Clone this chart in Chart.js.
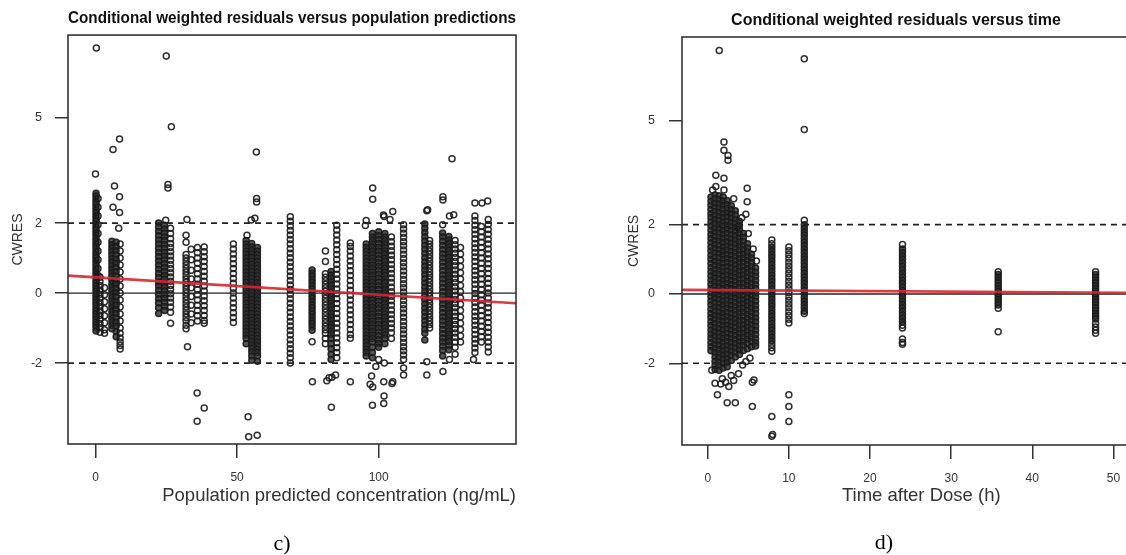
<!DOCTYPE html>
<html>
<head>
<meta charset="utf-8">
<script src="https://cdn.jsdelivr.net/npm/chart.js@4.4.1/dist/chart.umd.min.js"></script>
<style>
  html, body { margin: 0; padding: 0; background: #fff; overflow: hidden; width: 1126px; height: 555px; position: relative; }
  canvas { position: absolute; top: 0; }
  .tag { position: absolute; font: 22px "Liberation Serif", "Times New Roman", serif; color: #000; line-height: 22px; transform: translateX(-50%); }
</style>
</head>
<body>
<canvas id="predChart" width="560" height="555" style="left:0"></canvas>
<canvas id="timeChart" width="606" height="555" style="left:560px"></canvas>
<div class="tag" style="left:282px; top:532px">c)</div>
<div class="tag" style="left:884px; top:531px">d)</div>
<script>
// Ejes y lineas de referencia
const yTicks = [-2, 0, 2, 5];
const predTicks = [0, 50, 100];
const timeTicks = [0, 10, 20, 30, 40, 50];
const refLevels = [0, 2, -2];

// CWRES vs concentracion predicha, columnas muy densas: [x, [valores y]]
const predDense = [
  [0.2, [2.85,2.77,2.69,2.61,2.53,2.45,2.37,2.29,2.21,2.13,2.05,1.97,1.89,1.81,1.73,1.65,1.57,1.49,1.41,1.33,1.25,1.17,1.09,1.01,0.93,0.85,0.77,0.69,0.61,0.53,0.45,0.37,0.29,0.21,0.13,0.05,-0.03,-0.11,-0.19,-0.27,-0.35,-0.43,-0.51,-0.59,-0.67,-0.75,-0.83,-0.91,-0.99,-1.08]],
  [5.8, [1.48,1.38,1.28,1.18,1.08,0.98,0.88,0.78,0.68,0.58,0.48,0.38,0.28,0.18,0.08,-0.02,-0.12,-0.22,-0.32,-0.42,-0.52,-0.62,-0.72,-0.82,-0.92,-1.02]],
  [7.3, [1.45,1.33,1.21,1.09,0.97,0.85,0.73,0.61,0.49,0.37,0.25,0.13,0.01,-0.11,-0.23,-0.35,-0.47,-0.59,-0.71,-0.83,-0.95,-1.1,-1.25]],
  [22.3, [2.0,1.88,1.76,1.64,1.52,1.4,1.28,1.16,1.04,0.92,0.8,0.68,0.56,0.44,0.32,0.2,0.08,-0.04,-0.16,-0.28,-0.42,-0.58]],
  [24.4, [1.94,1.83,1.72,1.61,1.5,1.39,1.28,1.17,1.06,0.95,0.84,0.73,0.62,0.51,0.4,0.29,0.18,0.07,-0.04,-0.15,-0.26,-0.38,-0.5]],
  [53.2, [1.5,1.4,1.3,1.2,1.1,1.0,0.9,0.8,0.7,0.6,0.5,0.4,0.3,0.2,0.1,0,-0.1,-0.2,-0.3,-0.4,-0.5,-0.6,-0.7,-0.8,-0.9,-1.0,-1.1,-1.2,-1.3,-1.45]],
  [55.2, [1.42,1.32,1.22,1.12,1.02,0.92,0.82,0.72,0.62,0.52,0.42,0.32,0.22,0.12,0.02,-0.08,-0.18,-0.28,-0.38,-0.48,-0.58,-0.68,-0.78,-0.88,-0.98,-1.08,-1.18,-1.28,-1.38,-1.48,-1.58,-1.68,-1.8,-1.92]],
  [57.2, [1.3,1.2,1.1,1.0,0.9,0.8,0.7,0.6,0.5,0.4,0.3,0.2,0.1,0,-0.1,-0.2,-0.3,-0.4,-0.5,-0.6,-0.7,-0.8,-0.9,-1.0,-1.1,-1.2,-1.3,-1.4,-1.5,-1.6,-1.7,-1.8,-1.95]],
  [76.5, [0.66,0.57,0.48,0.39,0.3,0.21,0.12,0.03,-0.06,-0.15,-0.24,-0.33,-0.42,-0.51,-0.6,-0.69,-0.78,-0.87,-0.96,-1.06]],
  [83.2, [0.62,0.52,0.42,0.32,0.22,0.12,0.02,-0.08,-0.18,-0.28,-0.38,-0.48,-0.58,-0.68,-0.78,-0.88,-0.98,-1.08,-1.18,-1.3,-1.45,-1.6,-1.75,-1.9]],
  [95.6, [1.4,1.3,1.2,1.1,1.0,0.9,0.8,0.7,0.6,0.5,0.4,0.3,0.2,0.1,0,-0.1,-0.2,-0.3,-0.4,-0.5,-0.6,-0.7,-0.8,-0.9,-1.0,-1.1,-1.2,-1.3,-1.4,-1.5,-1.6,-1.7,-1.8]],
  [97.8, [1.7,1.6,1.5,1.4,1.3,1.2,1.1,1.0,0.9,0.8,0.7,0.6,0.5,0.4,0.3,0.2,0.1,0,-0.1,-0.2,-0.3,-0.4,-0.5,-0.6,-0.7,-0.8,-0.9,-1.0,-1.1,-1.2,-1.3,-1.4,-1.55,-1.7,-1.85]],
  [100, [1.75,1.64,1.53,1.42,1.31,1.2,1.09,0.98,0.87,0.76,0.65,0.54,0.43,0.32,0.21,0.1,-0.01,-0.12,-0.23,-0.34,-0.45,-0.56,-0.67,-0.78,-0.89,-1.0,-1.11,-1.22,-1.33,-1.44,-1.55]],
  [102.2, [1.7,1.6,1.5,1.4,1.3,1.2,1.1,1.0,0.9,0.8,0.7,0.6,0.5,0.4,0.3,0.2,0.1,0,-0.1,-0.2,-0.3,-0.4,-0.5,-0.6,-0.7,-0.8,-0.9,-1.0,-1.1,-1.2,-1.3,-1.45]],
  [116.3, [1.97,1.85,1.73,1.61,1.49,1.37,1.25,1.13,1.01,0.89,0.77,0.65,0.53,0.41,0.29,0.17,0.05,-0.07,-0.19,-0.31,-0.43,-0.55,-0.67,-0.79,-0.91,-1.03,-1.15,-1.34]],
  [122.6, [1.72,1.6,1.48,1.36,1.24,1.12,1.0,0.88,0.76,0.64,0.52,0.4,0.28,0.16,0.04,-0.08,-0.2,-0.32,-0.44,-0.56,-0.68,-0.8,-0.92,-1.04,-1.16,-1.28,-1.4,-1.52,-1.64,-1.8]],
  [124.8, [1.62,1.52,1.42,1.32,1.22,1.12,1.02,0.92,0.82,0.72,0.62,0.52,0.42,0.32,0.22,0.12,0.02,-0.08,-0.18,-0.28,-0.38,-0.48,-0.58,-0.68,-0.78,-0.88,-0.98,-1.08,-1.18,-1.28,-1.38,-1.5,-1.62]]
];
// Columnas donde se ven los circulos uno a uno
const predColumns = [
  [0.9, [2.7,2.45,2.2,1.95,1.7,1.45,1.2,0.95,0.7,0.5]],
  [1.6, [0.45,0.33,0.21,0.09,-0.03,-0.15,-0.27,-0.39,-0.51,-0.63,-0.75,-0.87,-0.99,-1.12]],
  [3.2, [0.15,-0.05,-0.25,-0.45,-0.65,-0.85,-1.05,-1.15]],
  [8.7, [1.4,1.2,1.0,0.8,0.6,0.4,0.2,0,-0.2,-0.4,-0.6,-0.8,-1.0,-1.15,-1.28,-1.4,-1.5,-1.6]],
  [26.5, [1.85,1.7,1.55,1.42,1.3,1.18,1.06,0.94,0.82,0.7,0.58,0.46,0.34,0.22,0.1,-0.02,-0.14,-0.26,-0.4,-0.55]],
  [32, [1.65,1.45,1.1,1.0,0.9,0.8,0.7,0.6,0.5,0.4,0.3,0.2,0.1,0,-0.1,-0.2,-0.3,-0.4,-0.5,-0.6,-0.7,-0.8,-0.92,-1.02]],
  [33.8, [1.25,0.95,0.65,0.4,0.15,-0.1,-0.35,-0.6,-0.85]],
  [36, [1.3,1.15,1.0,0.85,0.7,0.55,0.4,0.25,0.1,-0.05,-0.2,-0.35,-0.5,-0.65,-0.8]],
  [38.4, [1.32,1.18,1.04,0.9,0.76,0.62,0.48,0.34,0.2,0.06,-0.08,-0.22,-0.36,-0.5,-0.64,-0.78,-0.86]],
  [48.7, [1.4,1.26,1.12,0.98,0.84,0.7,0.56,0.42,0.28,0.14,0,-0.14,-0.28,-0.42,-0.56,-0.7,-0.84]],
  [68.8, [2.18,2.05,1.92,1.79,1.66,1.53,1.4,1.27,1.14,1.01,0.88,0.75,0.62,0.49,0.36,0.23,0.1,-0.03,-0.16,-0.29,-0.42,-0.55,-0.68,-0.81,-0.94,-1.07,-1.2,-1.33,-1.46,-1.59,-1.72,-1.85,-2.0]],
  [81.2, [1.2,0.9,0.55,0.45,0.35,0.25,0.15,0.05,-0.05,-0.15,-0.25,-0.35,-0.45,-0.55,-0.65,-0.75,-0.85,-0.95,-1.05,-1.15,-1.3,-1.45]],
  [85.2, [1.94,1.8,1.66,1.52,1.38,1.24,1.1,0.96,0.82,0.68,0.54,0.4,0.26,0.12,-0.02,-0.16,-0.3,-0.44,-0.58,-0.72,-0.86,-1.0,-1.14,-1.28,-1.42,-1.56,-1.7,-1.85]],
  [90, [1.43,1.33,1.2,1.06,0.92,0.78,0.64,0.5,0.36,0.22,0.08,-0.06,-0.2,-0.34,-0.48,-0.62,-0.76,-0.9,-1.04,-1.18,-1.29]],
  [104.5, [1.6,1.47,1.34,1.21,1.08,0.95,0.82,0.69,0.56,0.43,0.3,0.17,0.04,-0.09,-0.22,-0.35,-0.48,-0.61,-0.74,-0.87,-1.0,-1.13,-1.3]],
  [108.8, [1.95,1.83,1.71,1.59,1.47,1.35,1.23,1.11,0.99,0.87,0.75,0.63,0.51,0.39,0.27,0.15,0.03,-0.09,-0.21,-0.33,-0.45,-0.57,-0.69,-0.81,-0.93,-1.05,-1.17,-1.29,-1.41,-1.53,-1.65,-1.77,-1.9,-2.14,-2.34]],
  [118, [1.5,1.4,1.3,1.2,1.1,1.0,0.9,0.8,0.7,0.6,0.5,0.4,0.3,0.2,0.1,0,-0.1,-0.2,-0.3,-0.4,-0.5,-0.6,-0.7,-0.8,-0.9,-1.0]],
  [122.6, [1.95]],
  [127, [1.5,1.38,1.26,1.14,1.02,0.9,0.78,0.66,0.54,0.42,0.3,0.18,0.06,-0.06,-0.18,-0.3,-0.42,-0.54,-0.66,-0.78,-0.9,-1.02,-1.14,-1.26,-1.4,-1.55]],
  [128.9, [1.3,1.12,0.94,0.76,0.58,0.4,0.22,0.04,-0.14,-0.32,-0.5,-0.68,-0.86,-1.04,-1.22,-1.4]],
  [134, [2.2,2.07,1.94,1.81,1.68,1.55,1.42,1.29,1.16,1.03,0.9,0.77,0.64,0.51,0.38,0.25,0.12,-0.01,-0.14,-0.27,-0.4,-0.53,-0.66,-0.79,-0.92,-1.05,-1.18,-1.31,-1.44,-1.57,-1.7]],
  [136.3, [1.9,1.75,1.6,1.45,1.3,1.15,1.0,0.85,0.7,0.55,0.4,0.25,0.1,-0.05,-0.2,-0.35,-0.5,-0.65,-0.8,-0.95,-1.1,-1.25,-1.4]],
  [138.7, [2.1,1.96,1.82,1.68,1.54,1.4,1.26,1.12,0.98,0.84,0.7,0.56,0.42,0.28,0.14,0,-0.14,-0.28,-0.42,-0.56,-0.7,-0.84,-0.98,-1.12,-1.26,-1.4,-1.54,-1.68]]
];
const predOutliers = [
  [0.3,7.0],[0,3.4],[6.2,4.1],[8.5,4.4],[6.7,3.06],[8.5,2.75],[6.2,2.45],[8.5,2.3],[8.2,1.85],
  [25,6.77],[26.8,4.75],[25.6,3.1],[25.6,3.0],[24.8,2.08],[26.5,-0.86],
  [32.3,2.1],[32.5,-1.53],[35.9,-2.85],[38.4,-3.28],[35.9,-3.66],
  [53.9,-3.53],[54.1,-4.1],[57.1,-4.06],[56.8,4.03],[56.9,2.7],[56.9,2.6],[56.3,2.14],[55,2.09],[53.5,1.65],
  [76.5,-1.39],[76.6,-2.53],[81.7,-2.5],[83.3,-3.26],[84.8,-2.34],[83.5,-2.4],[82.5,-2.42],[90,-2.53],
  [95.6,2.07],[95.3,1.93],[97.9,3.0],[97.9,2.68],[101.7,2.23],[101.9,2.19],[105,2.33],[104,2.1],
  [97.5,-2.37],[97,-2.6],[97.9,-2.68],[97.8,-3.2],[101.8,-3.15],[101.9,-2.94],[102,-2.0],[101.8,-2.53],[104.7,-2.58],[105,-2.53],[100,-1.9],[99,-2.1],
  [117,2.35],[117.3,2.38],[117,-1.96],[117,-2.34],
  [122.7,2.75],[122.7,2.66],[125.9,3.84],[126.5,2.24],[125,2.2],[122.7,-2.24],[125,-1.9],[127,-1.75],
  [134,2.57],[138.5,2.63],[136.5,2.57],[133.5,-1.9]
];
const predTrend = [[-9.7, 0.5], [148.5, -0.29]];

// CWRES vs tiempo tras dosis, columnas muy densas: [x, [valores y]]
const timeDense = [
  [0.4, [2.8,2.68,2.56,2.44,2.32,2.2,2.08,1.96,1.84,1.72,1.6,1.48,1.36,1.24,1.12,1.0,0.88,0.76,0.64,0.52,0.4,0.28,0.16,0.04,-0.08,-0.2,-0.32,-0.44,-0.56,-0.68,-0.8,-0.92,-1.04,-1.16,-1.28,-1.4,-1.52,-1.64]],
  [0.9, [2.86,2.74,2.62,2.5,2.38,2.26,2.14,2.02,1.9,1.78,1.66,1.54,1.42,1.3,1.18,1.06,0.94,0.82,0.7,0.58,0.46,0.34,0.22,0.1,-0.02,-0.14,-0.26,-0.38,-0.5,-0.62,-0.74,-0.86,-0.98,-1.1,-1.22,-1.34,-1.46,-1.58,-1.7,-1.82,-1.94,-2.06,-2.18]],
  [1.4, [2.84,2.72,2.6,2.48,2.36,2.24,2.12,2.0,1.88,1.76,1.64,1.52,1.4,1.28,1.16,1.04,0.92,0.8,0.68,0.56,0.44,0.32,0.2,0.08,-0.04,-0.16,-0.28,-0.4,-0.52,-0.64,-0.76,-0.88,-1.0,-1.12,-1.24,-1.36,-1.48,-1.6,-1.72,-1.84,-1.96,-2.08,-2.2]],
  [1.9, [2.8,2.68,2.56,2.44,2.32,2.2,2.08,1.96,1.84,1.72,1.6,1.48,1.36,1.24,1.12,1.0,0.88,0.76,0.64,0.52,0.4,0.28,0.16,0.04,-0.08,-0.2,-0.32,-0.44,-0.56,-0.68,-0.8,-0.92,-1.04,-1.16,-1.28,-1.4,-1.52,-1.64,-1.76,-1.88,-2.0,-2.14]],
  [2.4, [2.7,2.58,2.46,2.34,2.22,2.1,1.98,1.86,1.74,1.62,1.5,1.38,1.26,1.14,1.02,0.9,0.78,0.66,0.54,0.42,0.3,0.18,0.06,-0.06,-0.18,-0.3,-0.42,-0.54,-0.66,-0.78,-0.9,-1.02,-1.14,-1.26,-1.38,-1.5,-1.62,-1.74,-1.86,-1.98,-2.1]],
  [2.9, [2.55,2.43,2.31,2.19,2.07,1.95,1.83,1.71,1.59,1.47,1.35,1.23,1.11,0.99,0.87,0.75,0.63,0.51,0.39,0.27,0.15,0.03,-0.09,-0.21,-0.33,-0.45,-0.57,-0.69,-0.81,-0.93,-1.05,-1.17,-1.29,-1.41,-1.53,-1.65,-1.77,-1.92]],
  [3.4, [2.4,2.28,2.16,2.04,1.92,1.8,1.68,1.56,1.44,1.32,1.2,1.08,0.96,0.84,0.72,0.6,0.48,0.36,0.24,0.12,0,-0.12,-0.24,-0.36,-0.48,-0.6,-0.72,-0.84,-0.96,-1.08,-1.2,-1.32,-1.44,-1.56,-1.68,-1.82]],
  [3.9, [2.1,1.98,1.86,1.74,1.62,1.5,1.38,1.26,1.14,1.02,0.9,0.78,0.66,0.54,0.42,0.3,0.18,0.06,-0.06,-0.18,-0.3,-0.42,-0.54,-0.66,-0.78,-0.9,-1.02,-1.14,-1.26,-1.38,-1.5,-1.62,-1.75]],
  [4.4, [1.75,1.63,1.51,1.39,1.27,1.15,1.03,0.91,0.79,0.67,0.55,0.43,0.31,0.19,0.07,-0.05,-0.17,-0.29,-0.41,-0.53,-0.65,-0.77,-0.89,-1.01,-1.13,-1.25,-1.37,-1.49,-1.63]],
  [4.9, [1.45,1.33,1.21,1.09,0.97,0.85,0.73,0.61,0.49,0.37,0.25,0.13,0.01,-0.11,-0.23,-0.35,-0.47,-0.59,-0.71,-0.83,-0.95,-1.07,-1.19,-1.31,-1.43,-1.58]],
  [5.4, [1.15,1.03,0.91,0.79,0.67,0.55,0.43,0.31,0.19,0.07,-0.05,-0.17,-0.29,-0.41,-0.53,-0.65,-0.77,-0.89,-1.01,-1.13,-1.25,-1.37,-1.52]],
  [5.9, [0.75,0.63,0.51,0.39,0.27,0.15,0.03,-0.09,-0.21,-0.33,-0.45,-0.57,-0.69,-0.81,-0.93,-1.05,-1.17,-1.29,-1.41,-1.5]],
  [7.9, [1.35,1.25,1.15,1.05,0.95,0.85,0.75,0.65,0.55,0.45,0.35,0.25,0.15,0.05,-0.05,-0.15,-0.25,-0.35,-0.45,-0.55,-0.65,-0.75,-0.85,-0.95,-1.05,-1.15,-1.25,-1.35]],
  [11.9, [2.0,1.9,1.8,1.7,1.6,1.5,1.4,1.3,1.2,1.1,1.0,0.9,0.8,0.7,0.6,0.5,0.4,0.3,0.2,0.1,0,-0.1,-0.2,-0.3,-0.4,-0.5]],
  [24, [1.3,1.2,1.1,1.0,0.9,0.8,0.7,0.6,0.5,0.4,0.3,0.2,0.1,0,-0.1,-0.2,-0.3,-0.4,-0.5,-0.6,-0.7,-0.8]],
  [35.8, [0.56,0.48,0.4,0.32,0.24,0.16,0.08,0,-0.08,-0.16,-0.24,-0.32]],
  [47.8, [0.56,0.48,0.4,0.32,0.24,0.16,0.08,0,-0.08,-0.16,-0.24,-0.32,-0.4,-0.48,-0.56,-0.64,-0.72]]
];
// Columnas donde se ven los circulos uno a uno
const timeColumns = [
  [7.9, [1.56,1.45,-1.45,-1.55,-1.65]],
  [10, [1.36,1.25,1.14,1.03,0.92,0.81,0.7,0.59,0.48,0.37,0.26,0.15,0.04,-0.07,-0.18,-0.29,-0.4,-0.51,-0.62,-0.73,-0.84]],
  [11.9, [2.13,-0.56]],
  [24, [1.43,-0.9]],
  [35.8, [0.64,-0.41]],
  [47.8, [0.64,-0.85,-0.95,-1.05,-1.13]]
];
const timeOutliers = [
  [1.42,7.03],[2.0,4.39],[2.0,4.15],[2.5,4.0],[2.5,3.86],[1.0,3.43],[2.0,3.34],[4.86,3.05],[4.86,2.66],[4.7,2.3],
  [3.7,1.94],[1.0,3.1],[0.6,3.0],[2.0,3.0],[3.2,2.75],[4.2,2.2],[5.0,1.75],[5.6,1.3],[6.0,0.95],
  [1.2,-2.91],[0.9,-2.58],[1.6,-2.6],[2.2,-2.55],[2.6,-2.67],[3.2,-2.5],[2.4,-3.14],[3.4,-3.14],[5.7,-2.48],
  [5.5,-2.55],[5.5,-3.25],[3.8,-2.3],[4.3,-2.05],[0.5,-2.2],[1.8,-2.45],[2.9,-2.35],[5.2,-1.85],[4.7,-1.95],
  [7.9,-3.54],[7.9,-4.11],[8.0,-4.06],[10,-2.91],[10,-3.25],[10,-3.68],[11.9,6.79],[11.9,4.75],
  [24,-0.98],[24,-1.3],[24,-1.4],[24,-1.45],[35.8,-1.09]
];
const timeTrend = [[-3.17, 0.12], [55.8, 0.03]];

const font = '"Liberation Sans", Arial, sans-serif';

// Pasar columnas a puntos {x, y}
const toPoints = (columns, outliers = []) =>
  columns.flatMap(([x, ys]) => ys.map(y => ({ x, y })))
    .concat(outliers.map(([x, y]) => ({ x, y })));

// Marco del area de grafico
const frame = {
  id: 'frame',
  afterDatasetsDraw(chart) {
    const { ctx, chartArea: a } = chart;
    ctx.save();
    ctx.strokeStyle = '#333';
    ctx.lineWidth = 1.6;
    ctx.strokeRect(a.left, a.top, a.right - a.left, a.bottom - a.top);
    ctx.restore();
  }
};

const pointStyle = { pointRadius: 3, borderWidth: 1.5, borderColor: 'rgba(25,25,25,0.9)' };

const makeChart = (canvas, c) => {
  const [xMin, xMax] = c.xRange;
  const refSets = refLevels.map(v => ({
    type: 'line',
    data: [{ x: xMin, y: v }, { x: xMax, y: v }],
    borderColor: '#222',
    borderWidth: v === 0 ? 1.3 : 1.7,
    borderDash: v === 0 ? [] : [6, 5],
    pointRadius: 0,
    order: 1
  }));
  return new Chart(canvas, {
    type: 'scatter',
    data: {
      datasets: [
        { type: 'line', data: c.trend.map(([x, y]) => ({ x, y })), borderColor: 'rgba(214,38,48,0.9)', borderWidth: 2.6, pointRadius: 0, order: 0 },
        ...refSets,
        { data: c.points, ...pointStyle, backgroundColor: 'rgba(0,0,0,0)', order: 2 },
        { data: c.dense, ...pointStyle, backgroundColor: 'rgba(45,45,45,0.8)', order: 3 }
      ]
    },
    options: {
      responsive: false,
      animation: false,
      devicePixelRatio: 1,
      layout: { padding: c.padding },
      plugins: {
        legend: { display: false },
        tooltip: { enabled: false },
        title: {
          display: true, text: c.title, color: '#111', fullSize: c.titleFull,
          font: { family: font, size: c.titleSize, weight: 'bold' },
          padding: c.titlePad
        }
      },
      scales: {
        x: {
          type: 'linear', min: xMin, max: xMax,
          afterBuildTicks: s => { s.ticks = c.xTicks.map(value => ({ value })); },
          afterFit: s => { s.height = c.xHeight; },
          border: { display: false },
          grid: { drawOnChartArea: false, tickLength: 14, tickColor: '#333', tickWidth: 1.5, lineWidth: 1.5 },
          ticks: { font: { family: font, size: 12 }, color: '#333', padding: 12, maxRotation: 0, autoSkip: false },
          title: { display: true, text: c.xTitle, align: c.xAlign, color: '#333', font: { family: font, size: 18.5 }, padding: { top: 0, bottom: 48 } }
        },
        y: {
          min: c.yRange[0], max: c.yRange[1],
          afterBuildTicks: s => { s.ticks = yTicks.map(value => ({ value })); },
          afterFit: s => { s.width = c.yWidth; },
          border: { display: false },
          grid: { drawOnChartArea: false, tickLength: 13, tickColor: '#333', tickWidth: 1.5, lineWidth: 1.5 },
          ticks: { font: { family: font, size: 12.5 }, color: '#333', padding: c.yPad, autoSkip: false },
          title: { display: true, text: 'CWRES', color: '#333', font: { family: font, size: 14 }, padding: { top: c.yTitlePad, bottom: 0 } }
        }
      }
    },
    plugins: [frame]
  });
};

makeChart(document.querySelector('#predChart'), {
  title: 'Conditional weighted residuals versus population predictions',
  titleFull: false, titleSize: 16.8,
  titlePad: { top: 8.3, bottom: 6.6 },
  padding: { left: 0, right: 44, top: 0, bottom: 0 },
  xRange: [-9.7, 148.5], yRange: [-4.31, 7.37],
  xTicks: predTicks, xHeight: 111, xAlign: 'end',
  xTitle: 'Population predicted concentration (ng/mL)',
  yWidth: 68, yPad: 13, yTitlePad: 9.6,
  trend: predTrend,
  dense: toPoints(predDense),
  points: toPoints(predColumns, predOutliers)
});

makeChart(document.querySelector('#timeChart'), {
  title: 'Conditional weighted residuals versus time',
  titleFull: true, titleSize: 16,
  titlePad: { top: 10.9, bottom: 6.9 },
  padding: { left: 66, right: 0, top: 0, bottom: 0 },
  xRange: [-3.17, 55.8], yRange: [-4.36, 7.42],
  xTicks: timeTicks, xHeight: 110, xAlign: 'center',
  xTitle: 'Time after Dose (h)',
  yWidth: 56, yPad: 14, yTitlePad: 0,
  trend: timeTrend,
  dense: toPoints(timeDense),
  points: toPoints(timeColumns, timeOutliers)
});
</script>
</body>
</html>
